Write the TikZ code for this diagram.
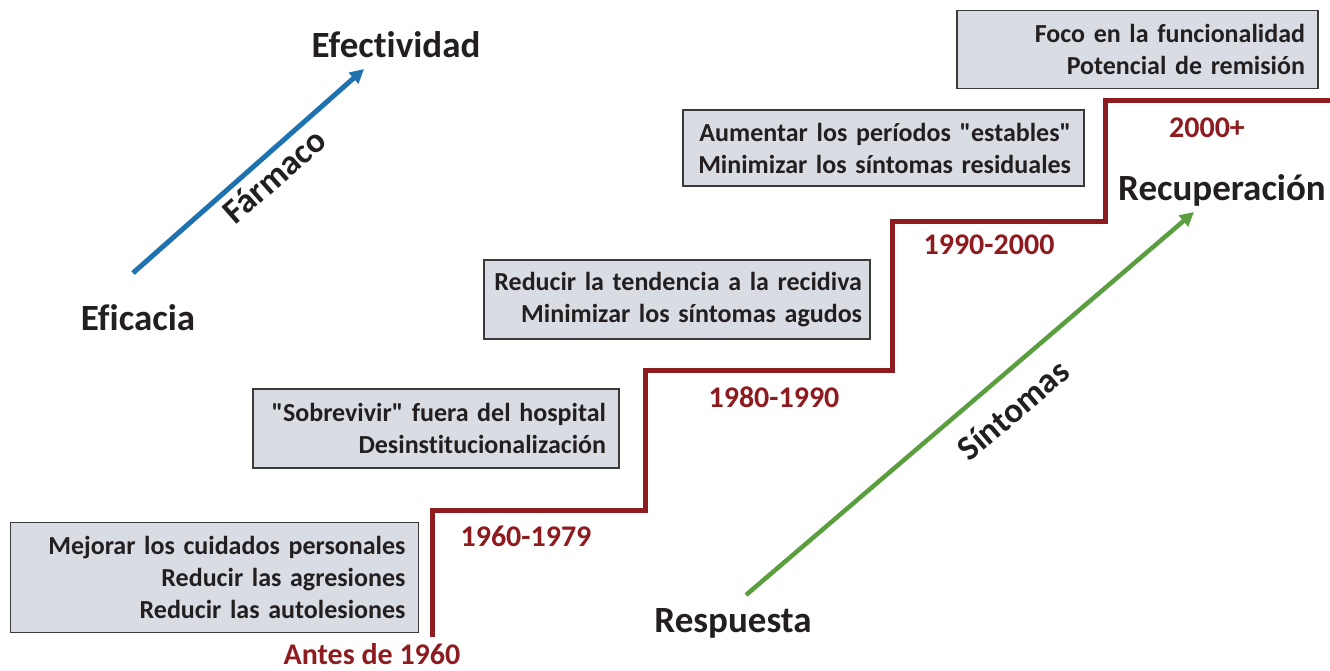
\documentclass[tikz,border=0pt]{standalone}
\usepackage{fontspec}
\setmainfont{Carlito}[Ligatures={NoCommon,TeXOff}]
\usetikzlibrary{arrows.meta}
\definecolor{stair}{HTML}{8E1B1F}
\definecolor{boxfill}{HTML}{D9DDE3}
\definecolor{boxline}{HTML}{3A3A3A}
\definecolor{txt}{HTML}{231F20}
\definecolor{blueA}{HTML}{1F72B0}
\definecolor{greenA}{HTML}{5A9E3F}
\begin{document}
\begin{tikzpicture}[x=1pt,y=-1pt,
  goalbox/.style={draw=boxline,line width=1.3pt,fill=boxfill,inner xsep=13pt,inner ysep=0pt,
    align=right,font=\fontsize{26}{32}\selectfont\bfseries,text=txt},
  era/.style={font=\fontsize{30}{32}\selectfont\bfseries,text=stair},
  axislabel/.style={font=\fontsize{37}{40}\selectfont\bfseries,text=txt},
  slant/.style={font=\fontsize{35}{38}\selectfont\bfseries,text=txt},
  bigarrow/.style={line width=5pt,-{Triangle[length=14pt,width=14pt]}}]
\useasboundingbox (0,0) rectangle (1330,670);
% boxes
\node[goalbox,minimum width=408pt,minimum height=110pt,text width=382pt] (b1) at (214.5,577.5)
  {Mejorar los cuidados personales\\Reducir las agresiones\\Reducir las autolesiones};
\node[goalbox,minimum width=366pt,minimum height=79pt,text width=340pt] (b2) at (436,428.5)
  {"Sobrevivir" fuera del hospital\\Desinstitucionalización};
\node[goalbox,minimum width=386pt,minimum height=79pt,text width=370pt,inner xsep=8pt] (b3) at (677,299.5)
  {Reducir la tendencia a la recidiva\\Minimizar los síntomas agudos};
\node[goalbox,minimum width=401pt,minimum height=76pt,text width=375pt] (b4) at (883.5,148)
  {Aumentar los períodos "estables"\\Minimizar los síntomas residuales};
\node[goalbox,minimum width=361pt,minimum height=78pt,text width=335pt] (b5) at (1137.5,49.5)
  {Foco en la funcionalidad\\Potencial de remisión};
% staircase
\coordinate (s0) at (432,637);
\coordinate (s1) at (432,510);
\coordinate (s2) at (645,510);
\coordinate (s3) at (645,370);
\coordinate (s4) at (892,370);
\coordinate (s5) at (892,221);
\coordinate (s6) at (1105,221);
\coordinate (s7) at (1105,100);
\coordinate (s8) at (1332,100);
\draw[stair,line width=5pt] (s0) -- (s1) -- (s2) -- (s3) -- (s4) -- (s5) -- (s6) -- (s7) -- (s8);
% eras
\node[era] (e0) at (372,654) {Antes de 1960};
\node[era] (e1) at (526,536) {1960-1979};
\node[era] (e2) at (774,397) {1980-1990};
\node[era] (e3) at (989,245) {1990-2000};
\node[era] (e4) at (1207,128) {2000+};
% blue arrow
\coordinate (ba) at (133,273);
\coordinate (bb) at (364,69);
\draw[bigarrow,blueA] (ba) -- (bb);
\node[axislabel] (eff) at (396,45) {Efectividad};
\node[axislabel] (efi) at (138,318) {Eficacia};
\node[slant,rotate=41.4] (farm) at (274,176) {Fármaco};
% green arrow
\coordinate (ga) at (746,595);
\coordinate (gb) at (1194,212);
\draw[bigarrow,greenA,line width=4.5pt] (ga) -- (gb);
\node[axislabel] (resp) at (733,623) {Respuesta};
\node[axislabel] (recu) at (1222,190) {Recuperación};
\node[slant,rotate=40.5] (sint) at (1013,410) {Síntomas};
\end{tikzpicture}
\end{document}
